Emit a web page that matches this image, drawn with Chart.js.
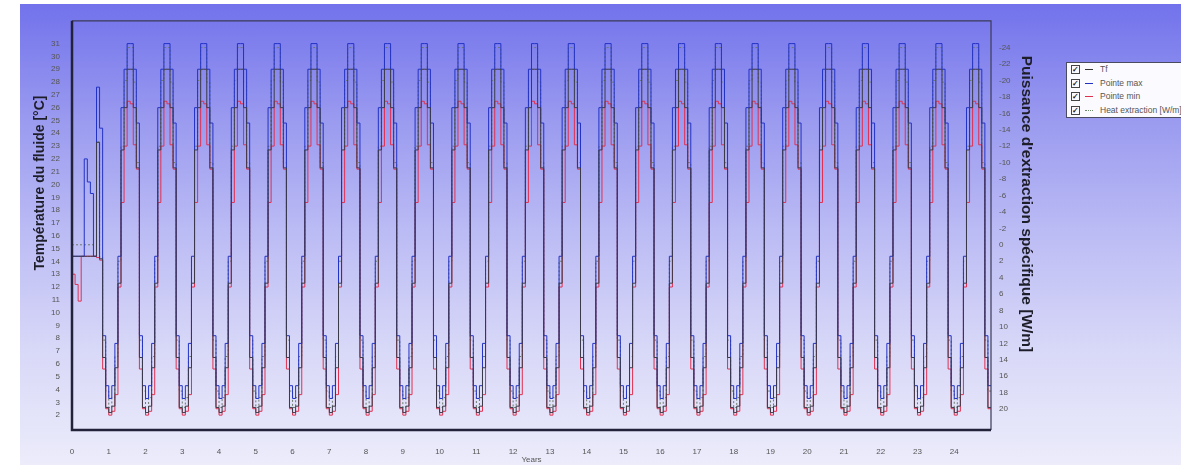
<!DOCTYPE html>
<html>
<head>
<meta charset="utf-8">
<script src="https://cdn.jsdelivr.net/npm/chart.js@4/dist/chart.umd.min.js"></script>
<style>
  html, body { margin: 0; padding: 0; width: 1181px; height: 465px; overflow: hidden; background: #fff;
    font-family: "Liberation Sans", Arial, sans-serif; }
  #wrap { position: absolute; left: 20px; top: 4px; width: 1161px; height: 461px;
    background: linear-gradient(to bottom, #7272ec 0%, #9a9af0 25%, #bcbcf5 50%, #d8d8f8 75%, #ececfb 100%); }
  #chart { position: absolute; left: 0; top: 0; }
  #legend { position: absolute; left: 1046px; top: 58px; width: 140px; height: 54px; background: #fbfbff;
    border: 1px solid #4a4a60; font-size: 8.5px; color: #555; }
  .row { height: 13.5px; line-height: 13.5px; white-space: nowrap; display: flex; align-items: center; color: #555; }
  .cb { display: inline-block; width: 7px; height: 7px; border: 1px solid #444; margin: 0 5px 0 4px;
    font-size: 8px; line-height: 7px; text-align: center; color: #222; font-weight: bold; }
  .ln { display: inline-block; width: 8px; height: 0; border-top: 1px solid; margin-right: 7px; }
</style>
</head>
<body>
<div id="wrap">
  <canvas id="chart" width="1161" height="461"></canvas>
  <div id="legend">
    <div class="row"><span class="cb">✓</span><span class="ln" style="border-color:#333"></span>Tf</div>
    <div class="row"><span class="cb">✓</span><span class="ln" style="border-color:#2030c0"></span>Pointe max</div>
    <div class="row"><span class="cb">✓</span><span class="ln" style="border-color:#e03050"></span>Pointe min</div>
    <div class="row"><span class="cb">✓</span><span class="ln" style="border-color:#6a8a6a;border-top-style:dotted"></span>Heat extraction [W/m]</div>
  </div>
</div>
<script>
// monthly values (Jan..Dec), first year then the repeating yearly cycle
const nYears = 25;
const yearTicks = [0, 1, 2, 3, 4, 5, 6, 7, 8, 9, 10, 11, 12, 13, 14, 15, 16, 17, 18, 19, 20, 21, 22, 23, 24];
const tempTicks = [2, 3, 4, 5, 6, 7, 8, 9, 10, 11, 12, 13, 14, 15, 16, 17, 18, 19, 20, 21, 22, 23, 24, 25, 26, 27, 28, 29, 30, 31];
const powerTicks = [-24, -22, -20, -18, -16, -14, -12, -10, -8, -6, -4, -2, 0, 2, 4, 6, 8, 10, 12, 14, 16, 18, 20];

const tfFirstYear  = [14.4, 14.4, 14.4, 14.4, 14.4, 14.4, 14.4, 14.4, 23.3, 14.2, 6.5, 2.6];
const tfCycle      = [2.2, 2.7, 5.7, 12.3, 22.7, 26.0, 29.0, 29.0, 26.0, 21.3, 6.5, 2.6];
const maxFirstYear = [14.4, 14.4, 14.4, 14.4, 22.0, 20.2, 19.3, 14.4, 27.6, 24.4, 8.2, 4.3];
const maxCycle     = [3.3, 4.3, 7.6, 14.4, 26.0, 29.0, 31.0, 31.0, 29.0, 24.8, 8.2, 4.3];
const minFirstYear = [13.0, 12.2, 10.9, 14.4, 14.4, 14.4, 14.4, 14.4, 14.3, 14.1, 5.6, 2.5];
const minCycle     = [2.0, 2.3, 3.6, 12.0, 18.6, 23.0, 26.5, 26.3, 23.1, 21.2, 5.6, 2.5];
const heatFirstYear = [0, 0, 0, 0, 0, 0, 0, 0, -12.5, 1.5, 11.6, 17.8];
const heatCycle     = [19.8, 18.6, 13.6, 2.0, -12.0, -20.0, -24.0, -24.0, -19.8, -10.0, 11.6, 17.8];

function buildSeries(firstYear, cycle) {
  const pts = [];
  for (let yr = 0; yr < nYears; yr++) {
    const vals = yr === 0 ? firstYear : cycle;
    vals.forEach((v, m) => pts.push({ x: yr + m / 12, y: v }));
  }
  pts.push({ x: nYears, y: cycle[11] });
  return pts;
}

const framePlugin = {
  id: 'frame',
  afterDatasetsDraw(chart) {
    const { ctx, chartArea: a } = chart;
    ctx.save();
    ctx.strokeStyle = '#3a3a58';
    ctx.lineWidth = 1.2;
    ctx.beginPath();
    ctx.moveTo(a.left, a.top); ctx.lineTo(a.right, a.top); ctx.lineTo(a.right, a.bottom);
    ctx.stroke();
    ctx.strokeStyle = '#22223a';
    ctx.lineWidth = 2.5;
    ctx.beginPath();
    ctx.moveTo(a.left, a.top); ctx.lineTo(a.left, a.bottom); ctx.lineTo(a.right, a.bottom);
    ctx.stroke();
    ctx.restore();
  },
  afterDraw(chart) {
    const { ctx } = chart;
    ctx.save();
    ctx.fillStyle = '#1e1e2a';
    ctx.textAlign = 'center';
    ctx.textBaseline = 'middle';
    ctx.font = 'bold 14px "Liberation Sans", Arial, sans-serif';
    ctx.translate(20, 179);
    ctx.rotate(-Math.PI / 2);
    ctx.fillText('Température du fluide [°C]', 0, 0);
    ctx.restore();
    ctx.save();
    ctx.fillStyle = '#1e1e2a';
    ctx.textAlign = 'center';
    ctx.textBaseline = 'middle';
    ctx.font = 'bold 15.5px "Liberation Sans", Arial, sans-serif';
    ctx.translate(1006, 200);
    ctx.rotate(Math.PI / 2);
    ctx.fillText("Puissance d'extraction spécifique [W/m]", 0, 0);
    ctx.restore();
  }
};

const tickFont = { family: '"Liberation Sans", Arial, sans-serif', size: 8 };

new Chart(document.getElementById('chart').getContext('2d'), {
  type: 'line',
  data: {
    datasets: [
      { label: 'Tf', data: buildSeries(tfFirstYear, tfCycle), borderColor: '#3a3a48', yAxisID: 'y' },
      { label: 'Pointe max', data: buildSeries(maxFirstYear, maxCycle), borderColor: '#2232c4', yAxisID: 'y' },
      { label: 'Pointe min', data: buildSeries(minFirstYear, minCycle), borderColor: '#e03050', yAxisID: 'y' },
      { label: 'Heat extraction [W/m]', data: buildSeries(heatFirstYear, heatCycle), borderColor: '#6a7a6a',
        borderDash: [2, 2], yAxisID: 'y2' }
    ]
  },
  options: {
    responsive: false,
    animation: false,
    layout: { padding: { top: 14, left: 0, right: 0, bottom: 0 } },
    elements: {
      point: { radius: 0 },
      line: { borderWidth: 1, stepped: true, tension: 0, fill: false }
    },
    plugins: { legend: { display: false }, tooltip: { enabled: false } },
    scales: {
      x: {
        type: 'linear', min: 0, max: nYears,
        grid: { display: false, drawTicks: false }, border: { display: false },
        afterBuildTicks: s => { s.ticks = yearTicks.map(v => ({ value: v })); },
        afterFit: s => { s.height = 35; },
        ticks: { font: tickFont, color: '#555', padding: 17, maxRotation: 0, autoSkip: false },
        title: { display: true, text: 'Years', font: tickFont, color: '#555', padding: { top: 0, bottom: 0 } }
      },
      y: {
        position: 'left', min: 0.84, max: 32.78,
        grid: { display: false, drawTicks: false }, border: { display: false },
        afterBuildTicks: s => { s.ticks = tempTicks.map(v => ({ value: v })); },
        afterFit: s => { s.width = 52; },
        ticks: { font: tickFont, color: '#555', padding: 12, autoSkip: false }
      },
      y2: {
        position: 'right', reverse: true, min: -27.26, max: 22.54,
        grid: { display: false, drawTicks: false }, border: { display: false },
        afterBuildTicks: s => { s.ticks = powerTicks.map(v => ({ value: v })); },
        afterFit: s => { s.width = 190; },
        ticks: { font: tickFont, color: '#555', padding: 8, autoSkip: false }
      }
    }
  },
  plugins: [framePlugin]
});
</script>
</body>
</html>
